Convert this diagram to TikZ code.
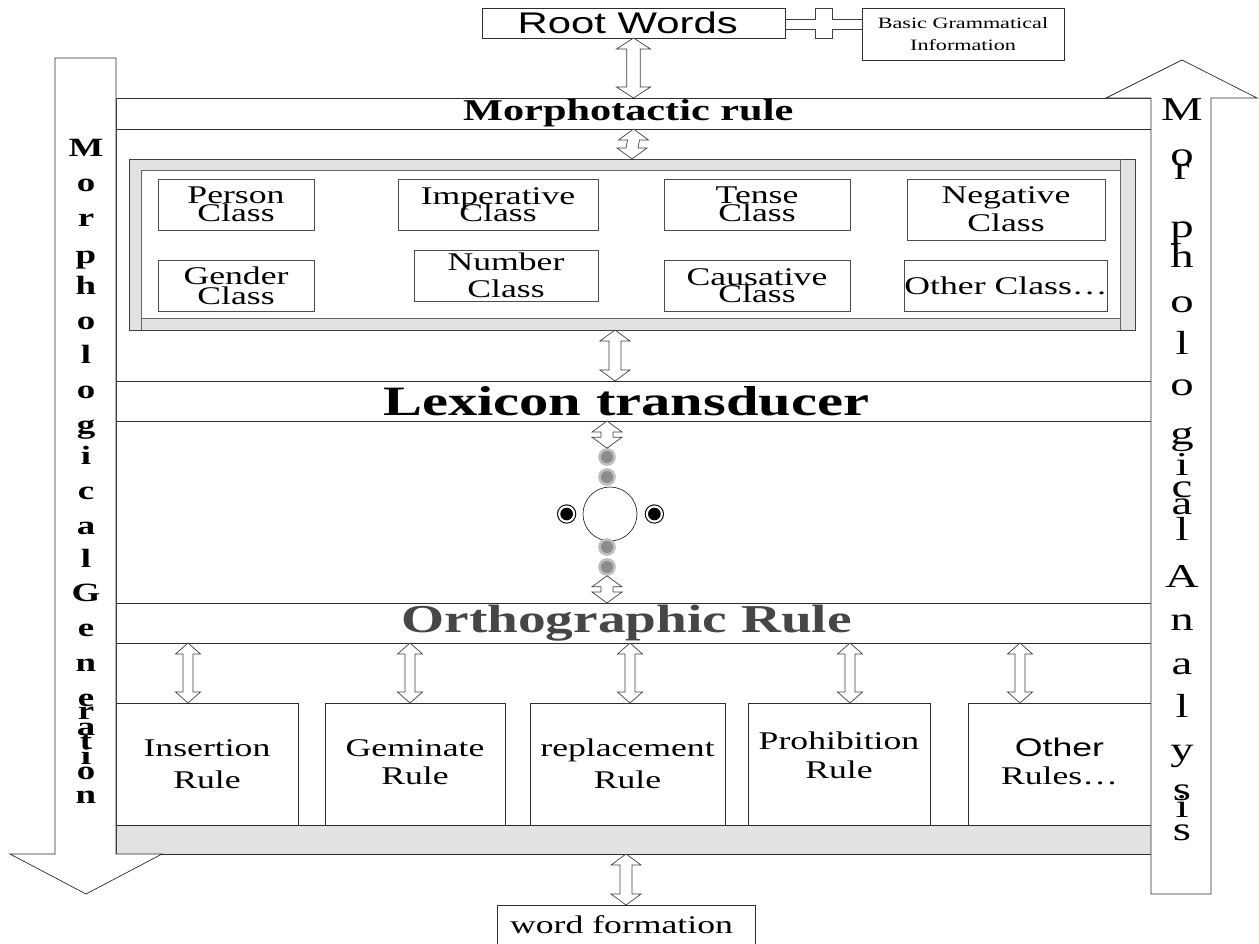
\documentclass[tikz,border=0pt]{standalone}
\usepackage{fontspec}
\setmainfont{Liberation Serif}[FakeStretch=1.4]
\setsansfont{Liberation Sans}[FakeStretch=1.4]
\usetikzlibrary{
  positioning,
  calc}

\definecolor{linecolor}{RGB}{45,45,45}
\definecolor{barcolor}{RGB}{226,226,226}
\definecolor{orthocolor}{RGB}{70,70,70}
\definecolor{dotcolor}{RGB}{140,140,140}
\definecolor{dotring}{RGB}{190,190,190}

\newcommand{\bandfont}[1]{\fontsize{#1}{#1}\selectfont\bfseries}
\newcommand{\classfont}{\fontsize{14.5}{16}\selectfont}
\newcommand{\rulefont}{\fontsize{14.5}{18}\selectfont}
\newcommand{\rootfont}{\sffamily\fontsize{17}{17}\selectfont}

%% twoway : hollow double headed arrow from #2 (upper end) to #3 (lower end)
%%          #1 is half the width of the heads
\newcommand{\twoway}[3][17]{%
  \draw [twoway] (#2) -- ($(#2)+(#1,11)$) -- ($(#2)+(0.4*#1,11)$)
    -- ($(#3)+(0.4*#1,-11)$) -- ($(#3)+(#1,-11)$) -- (#3)
    -- ($(#3)+(-#1,-11)$) -- ($(#3)+(-0.4*#1,-11)$)
    -- ($(#2)+(-0.4*#1,11)$) -- ($(#2)+(-#1,11)$) -- cycle;
}

\tikzset{
  %% wh : size of a node, in pixels of the drawing
  wh/.style args={#1x#2}{
    minimum width=#1*0.02cm,
    minimum height=#2*0.02cm
  },
  %% plainbox : a box with text
  plainbox/.style={
    rectangle,
    draw=linecolor,
    fill=white,
    inner sep=0pt,
    outer sep=0pt,
    align=center
  },
  %% classbox : one of the classes of the lexicon
  classbox/.style={
    plainbox,
    draw=black!70,
    font=\classfont
  },
  %% rulebox : one of the orthographic rules
  rulebox/.style={
    plainbox,
    font=\rulefont
  },
  %% band : a full width layer of the frame
  band/.style={
    plainbox
  },
  %% graybar : closing bar of the frame
  graybar/.style={
    rectangle,
    draw=linecolor,
    fill=barcolor,
    inner sep=0pt,
    outer sep=0pt
  },
  %% classframe : gray border round the classes
  classframe/.style={
    rectangle,
    draw=black!75,
    fill=barcolor,
    inner sep=0pt,
    outer sep=0pt
  },
  classinner/.style={
    rectangle,
    draw=black!60,
    fill=white,
    inner sep=0pt,
    outer sep=0pt
  },
  classedge/.style={draw=black!60},
  twoway/.style={draw=black!75, fill=white},
  bigarrow/.style={draw=linecolor, fill=white},
  joint/.style={draw=black!75},
  hub/.style={
    circle,
    draw=linecolor,
    fill=white,
    minimum size=1.08cm,
    inner sep=0pt
  },
  graydot/.style={
    circle,
    fill=dotcolor,
    draw=dotring,
    line width=1.5pt,
    minimum size=0.3cm,
    inner sep=0pt
  },
  blackdot/.style={
    circle,
    fill=black,
    draw=black,
    line width=0.6pt,
    double=white,
    double distance=1.2pt,
    minimum size=0.3cm,
    inner sep=0pt
  },
  genletter/.style={
    font=\fontsize{15}{15}\selectfont\bfseries,
    inner sep=0pt,
    text height=7pt,
    text depth=0pt
  },
  analetter/.style={
    font=\fontsize{19}{19}\selectfont,
    inner sep=0pt,
    text height=8.5pt,
    text depth=0pt
  }
}

\begin{document}
\begin{tikzpicture}
  [x=0.02cm,
  y=-0.02cm]

  \useasboundingbox (0,0) rectangle (1259,944);

  %% Top: root words and grammatical information
  \node (root) [plainbox, wh=303x30, font=\rootfont] at (633.5,23) {%
    Root Words
  };
  \node (basic) [plainbox, wh=202x52, font=\fontsize{9}{12.5}\selectfont]
    at (963,34) {%
    Basic Grammatical\\Information
  };
  \draw [joint] ($(root.east)+(0,-4)$) -| ++(30,-11) -- ++(17,0)
    |- ($(basic.west |- root.east)+(0,-4)$);
  \draw [joint] ($(root.east)+(0,6)$) -| ++(30,9) -- ++(17,0)
    |- ($(basic.west |- root.east)+(0,6)$);

  %% Layers of the frame
  \node (lex) [band, wh=1035x40, font=\bandfont{23.8}] at (633.5,401) {%
    Lexicon transducer
  };
  \node (ortho) [band, wh=1035x40, font=\bandfont{22.5}, text=orthocolor]
    at (633.5,623) {%
    Orthographic Rule
  };
  \node (bar) [graybar, wh=1035x29] at (633.5,839.5) {};
  \node (morph) [band, wh=1035x31, font=\bandfont{17.2}] at (633.5,113.5) {%
    Morphotactic rule
  };
  \draw [linecolor] (morph.north west) rectangle (bar.south east);

  %% Classes
  \node (classes) [classframe, wh=1006x171] at (632,244.5) {};
  \node (classinner) [classinner, wh=979x148] at (630.5,244) {};
  \draw [classedge] (classinner.north east |- classes.north)
    -- (classinner.south east |- classes.south);
  \draw [classedge] (classinner.south west)
    -- (classinner.south west |- classes.south);

  \node (person) [classbox, wh=156x51] at (236,204.5) {%
    Person\\[-6pt]Class};
  \node (imper) [classbox, wh=200x51] at (498,204.5) {%
    Imperative\\[-6pt]Class};
  \node (tense) [classbox, wh=186x51] at (757,204.5) {%
    Tense\\[-6pt]Class};
  \node (negat) [classbox, wh=198x61] at (1006,209.5) {%
    Negative\\Class};
  \node (gender) [classbox, wh=156x51] at (236,285.5) {%
    Gender\\[-4.5pt]Class};
  \node (number) [classbox, wh=184x51] at (506,275.5) {%
    Number\\[-0.5pt]Class};
  \node (causat) [classbox, wh=186x51] at (757,285.5) {%
    Causative\\[-6pt]Class};
  \node (otherclass) [classbox, wh=200x51] at (1006,285.5) {%
    Other Class\ldots};

  %% Transducer
  \node (d1) [graydot] at (607,457) {};
  \node (d2) [graydot] at (607,477) {};
  \node (hub) [hub] at (610,514) {};
  \node (bl) [blackdot, left=0.16cm of hub] {};
  \node (br) [blackdot, right=0.18cm of hub] {};
  \node (d3) [graydot] at (607,547) {};
  \node (d4) [graydot] at (607,567) {};

  %% Rules
  \node (ins) [rulebox, wh=182x122] at (207,764) {%
    Insertion\\Rule};
  \node (gem) [rulebox, wh=180x122] at (415,764) {%
    \\[-10pt]Geminate\\[-2pt]Rule};
  \node (rep) [rulebox, wh=195x122] at (627.5,764) {%
    replacement\\Rule};
  \node (pro) [rulebox, wh=182x122] at (839,764) {%
    Prohibition\\[-1pt]Rule\\[-8pt]};
  \node (oth) [rulebox, wh=183x122] at (1059.5,764) {%
    \\[-10pt]{\sffamily Other}\\[-2pt]Rules\ldots};

  \node (word) [plainbox, wh=258x40, font=\rulefont] at (626,925) {%
    word formation
  };

  %% Connections
  \twoway{root.south}{morph.north}
  \twoway[15]{morph.south}{classes.north}
  \coordinate (lexup) at (615,0 |- classes.south);
  \twoway[15]{lexup}{lexup |- lex.north}
  \twoway[15]{lex.south -| d1}{d1.north}
  \twoway[15]{d4.south}{ortho.north -| d4}
  \foreach \rb/\ax in {ins/188, gem/410, rep/630, pro/850, oth/1020}{
    \coordinate (\rb-up) at (\ax,0 |- ortho.south);
    \twoway[12.5]{\rb-up}{\rb-up |- \rb.north}
  }
  \twoway[15]{bar.south -| word.north}{word.north}

  %% Generation and analysis arrows
  \draw [bigarrow] (55,58) -- (116,58) -- (116,854) -- (162,854)
    -- (86,894) -- (10,854) -- (55,854) -- cycle;
  \draw [bigarrow] (1151,894) -- (1211,894) -- (1211,98) -- (1257,98)
    -- (1182,60) -- (1106,98) -- (1151,98) -- cycle;

  \foreach \ch/\ly [count=\k] in {M/150, o/185, r/220, p/257, h/288,
    o/323, l/357, o/392, g/427, i/458, c/493, a/528, l/561, G/595,
    e/630, n/665, e/700, r/713, a/729, t/743, i/758, o/773, n/797}
    \node (gen-\k) [genletter] at (86,\ly) {\ch};

  \foreach \ch/\ly [count=\k] in {M/113, o/158, r/172, p/230, h/260,
    o/305, l/347, o/388, g/437, i/468, c/490, a/507, l/533, A/580,
    n/623, a/667, l/710, y/753, s/793, i/810, s/833}
    \node (ana-\k) [analetter] at (1182,\ly) {\ch};

\end{tikzpicture}
\end{document}
